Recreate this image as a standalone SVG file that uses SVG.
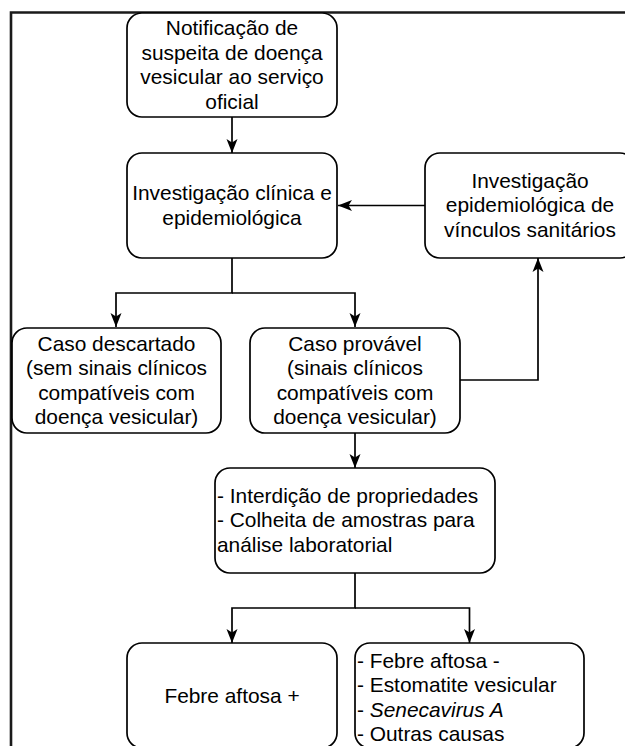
<svg xmlns="http://www.w3.org/2000/svg" width="625" height="746" viewBox="0 0 625 746">
<style>
.box{fill:#fff;stroke:#000;stroke-width:1.7}
.t{font-family:"Liberation Sans",Arial,Helvetica,sans-serif;font-size:20px;fill:#000}
.c{text-anchor:middle}
.l{text-anchor:start}
.edge{fill:none;stroke:#000;stroke-width:1.7}
.frame{fill:none;stroke:#1a1a1a;stroke-width:2.6}
</style>
<defs>
<marker id="arr" viewBox="0 0 14 14" refX="14" refY="7" markerWidth="14" markerHeight="14" markerUnits="userSpaceOnUse" orient="auto">
<path d="M0,1.5 L14,7 L0,12.5 L3.5,7 Z" fill="#000"/>
</marker>
</defs>
<rect width="625" height="746" fill="#fff"/>
<path class="frame" d="M11 746 V12.5 H625"/>
<g id="connectors">
<path class="edge" d="M232 117 V153" marker-end="url(#arr)"/>
<path class="edge" d="M425 205.5 H338" marker-end="url(#arr)"/>
<path class="edge" d="M232 258 V293 H116 V327" marker-end="url(#arr)"/>
<path class="edge" d="M232 293 H355 V327" marker-end="url(#arr)"/>
<path class="edge" d="M460 380 H538 V258" marker-end="url(#arr)"/>
<path class="edge" d="M355 433 V468" marker-end="url(#arr)"/>
<path class="edge" d="M355 573 V608 H232 V643" marker-end="url(#arr)"/>
<path class="edge" d="M355 608 H469.5 V643" marker-end="url(#arr)"/>
</g>
<g id="n1">
<rect class="box" x="127" y="13" width="210" height="104" rx="15"/>
<g transform="translate(232 0) scale(1.045 1)">
<text class="t c" x="0" y="35">Notificação de</text>
<text class="t c" x="0" y="60">suspeita de doença</text>
<text class="t c" x="0" y="84.5">vesicular ao serviço</text>
<text class="t c" x="0" y="109">oficial</text>
</g>
</g>
<g id="n2">
<rect class="box" x="127" y="153" width="210" height="105" rx="15"/>
<g transform="translate(232 0) scale(1.045 1)">
<text class="t c" x="0" y="200">Investigação clínica e</text>
<text class="t c" x="0" y="225">epidemiológica</text>
</g>
</g>
<g id="n3">
<rect class="box" x="425" y="153" width="210" height="105" rx="15"/>
<g transform="translate(530 0) scale(1.045 1)">
<text class="t c" x="0" y="188">Investigação</text>
<text class="t c" x="0" y="212.5">epidemiológica de</text>
<text class="t c" x="0" y="237">vínculos sanitários</text>
</g>
</g>
<g id="n4">
<rect class="box" x="12" y="328" width="209" height="105" rx="15"/>
<g transform="translate(116.5 0) scale(1.045 1)">
<text class="t c" x="0" y="351">Caso descartado</text>
<text class="t c" x="0" y="375.5">(sem sinais clínicos</text>
<text class="t c" x="0" y="400">compatíveis com</text>
<text class="t c" x="0" y="424.5">doença vesicular)</text>
</g>
</g>
<g id="n5">
<rect class="box" x="250" y="328" width="210" height="105" rx="15"/>
<g transform="translate(355 0) scale(1.045 1)">
<text class="t c" x="0" y="351">Caso provável</text>
<text class="t c" x="0" y="375.5">(sinais clínicos</text>
<text class="t c" x="0" y="400">compatíveis com</text>
<text class="t c" x="0" y="424.5">doença vesicular)</text>
</g>
</g>
<g id="n6">
<rect class="box" x="215" y="468" width="280" height="105" rx="15"/>
<g transform="translate(217 0) scale(1.045 1)">
<text class="t l" x="0" y="503">- Interdição de propriedades</text>
<text class="t l" x="0" y="527.5">- Colheita de amostras para</text>
<text class="t l" x="0" y="552">análise laboratorial</text>
</g>
</g>
<g id="n7">
<rect class="box" x="127" y="643" width="210" height="105" rx="15"/>
<g transform="translate(232 0) scale(1.045 1)">
<text class="t c" x="0" y="703">Febre aftosa +</text>
</g>
</g>
<g id="n8">
<rect class="box" x="355" y="643" width="229" height="105" rx="15"/>
<g transform="translate(357 0) scale(1.045 1)">
<text class="t l" x="0" y="668">- Febre aftosa -</text>
<text class="t l" x="0" y="692.5">- Estomatite vesicular</text>
<text class="t l" x="0" y="717">- <tspan font-style="italic">Senecavirus A</tspan></text>
<text class="t l" x="0" y="741.5">- Outras causas</text>
</g>
</g>
</svg>
